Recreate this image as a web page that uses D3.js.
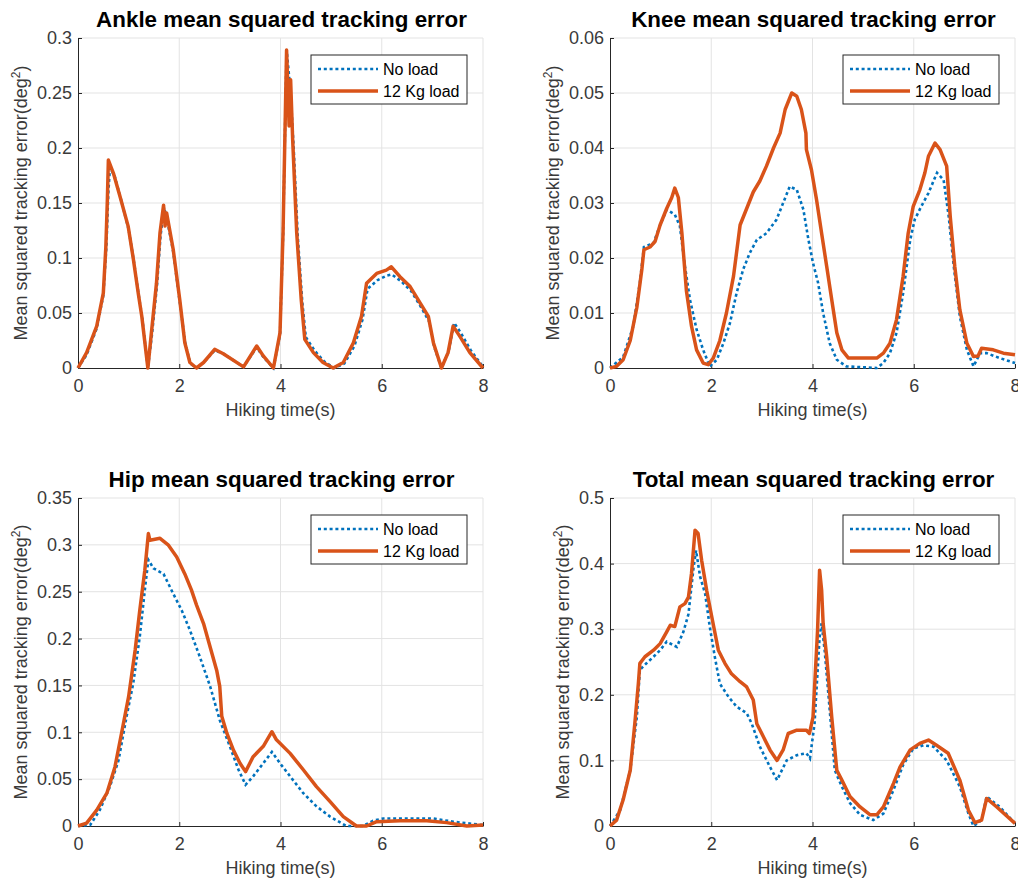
<!DOCTYPE html>
<html>
<head>
<meta charset="utf-8">
<script src="https://cdn.jsdelivr.net/npm/d3@7"></script>
<style>
  body { margin: 0; background: #fff; }
  svg { display: block; font-family: "Liberation Sans", Arial, Helvetica, sans-serif; }
</style>
</head>
<body>
<svg id="fig"></svg>
<script>
// values, [time (s), error]
const xTicks = [0, 2, 4, 6, 8];
const xTickLabels = ["0", "2", "4", "6", "8"];
const seriesNames = ["No load", "12 Kg load"];

const ankleNoLoad = [[0,0],[0.17,0.012],[0.37,0.036],[0.5,0.066],[0.56,0.11],[0.6,0.16],[0.63,0.182],[0.72,0.175],[0.85,0.153],[1.0,0.126],[1.1,0.098],[1.2,0.066],[1.27,0.045],[1.38,0],[1.46,0.03],[1.56,0.075],[1.63,0.12],[1.7,0.146],[1.76,0.135],[1.88,0.106],[2.01,0.06],[2.12,0.022],[2.22,0.004],[2.34,0],[2.48,0.005],[2.7,0.016],[2.87,0.013],[3.27,0.001],[3.53,0.019],[3.66,0.01],[3.86,0],[3.99,0.03],[4.05,0.12],[4.12,0.29],[4.2,0.25],[4.26,0.2],[4.34,0.12],[4.43,0.06],[4.5,0.028],[4.67,0.016],[4.86,0.006],[5.06,0],[5.26,0.004],[5.46,0.02],[5.62,0.044],[5.72,0.072],[5.92,0.08],[6.1,0.084],[6.2,0.085],[6.38,0.079],[6.58,0.07],[6.78,0.055],[6.94,0.042],[7.03,0.02],[7.18,0],[7.32,0.015],[7.43,0.041],[7.56,0.032],[7.76,0.016],[8,0.001]];
const ankleLoad = [[0,0],[0.17,0.014],[0.37,0.038],[0.5,0.068],[0.55,0.11],[0.58,0.153],[0.6,0.189],[0.7,0.177],[0.83,0.156],[0.99,0.129],[1.09,0.1],[1.19,0.068],[1.26,0.047],[1.38,0],[1.45,0.032],[1.55,0.077],[1.62,0.123],[1.69,0.148],[1.72,0.129],[1.75,0.141],[1.88,0.108],[2.01,0.062],[2.11,0.023],[2.21,0.005],[2.34,0],[2.48,0.005],[2.7,0.017],[2.87,0.013],[3.27,0.001],[3.53,0.02],[3.66,0.011],[3.86,0],[3.99,0.032],[4.05,0.123],[4.12,0.289],[4.17,0.22],[4.2,0.262],[4.24,0.208],[4.32,0.123],[4.41,0.062],[4.48,0.026],[4.65,0.014],[4.84,0.005],[5.04,0],[5.24,0.005],[5.44,0.023],[5.6,0.047],[5.7,0.077],[5.9,0.086],[6.09,0.089],[6.19,0.092],[6.36,0.083],[6.56,0.074],[6.76,0.059],[6.92,0.047],[7.02,0.023],[7.18,0],[7.31,0.014],[7.41,0.038],[7.54,0.029],[7.74,0.014],[8,0]];

const kneeNoLoad = [[0,0],[0.26,0.002],[0.46,0.0076],[0.59,0.0155],[0.67,0.022],[0.86,0.0227],[0.99,0.026],[1.12,0.0288],[1.28,0.0279],[1.38,0.0258],[1.48,0.0185],[1.58,0.0124],[1.71,0.007],[1.84,0.0033],[1.97,0.0003],[2.11,0.0015],[2.24,0.0045],[2.37,0.0082],[2.5,0.0136],[2.63,0.0179],[2.76,0.0209],[2.9,0.0233],[3.09,0.0245],[3.29,0.027],[3.42,0.03],[3.55,0.033],[3.69,0.0324],[3.82,0.0288],[3.92,0.0233],[4.01,0.0191],[4.11,0.0155],[4.21,0.01],[4.34,0.0045],[4.48,0.0015],[4.67,0.0003],[5.27,0],[5.4,0.0009],[5.53,0.0027],[5.66,0.0064],[5.79,0.0136],[5.93,0.0233],[6.02,0.027],[6.15,0.0294],[6.29,0.0318],[6.46,0.0355],[6.59,0.0342],[6.69,0.0276],[6.79,0.0185],[6.91,0.0094],[7.05,0.0033],[7.18,0.0003],[7.31,0.0027],[7.44,0.0027],[7.7,0.0018],[8,0.0009]];
const kneeLoad = [[0,0],[0.13,0.0003],[0.26,0.0015],[0.4,0.005],[0.53,0.011],[0.63,0.018],[0.67,0.0215],[0.79,0.022],[0.89,0.023],[0.99,0.026],[1.12,0.029],[1.22,0.031],[1.28,0.0327],[1.35,0.031],[1.42,0.0245],[1.51,0.014],[1.61,0.0076],[1.71,0.0033],[1.84,0.0009],[1.94,0.0006],[2.04,0.0018],[2.17,0.005],[2.3,0.01],[2.44,0.0167],[2.57,0.026],[2.7,0.029],[2.83,0.032],[2.96,0.034],[3.09,0.0367],[3.23,0.04],[3.36,0.0427],[3.46,0.047],[3.59,0.05],[3.69,0.0494],[3.78,0.047],[3.87,0.0427],[3.88,0.0397],[3.98,0.036],[4.08,0.0306],[4.18,0.0245],[4.28,0.0185],[4.38,0.0124],[4.48,0.0064],[4.58,0.0033],[4.71,0.0018],[5.27,0.0018],[5.4,0.0027],[5.53,0.0045],[5.66,0.0088],[5.79,0.0167],[5.89,0.0245],[5.99,0.0294],[6.12,0.0324],[6.22,0.0355],[6.29,0.0385],[6.42,0.0409],[6.52,0.0397],[6.65,0.0367],[6.72,0.0276],[6.81,0.0185],[6.91,0.0106],[7.05,0.0045],[7.18,0.0021],[7.27,0.0022],[7.34,0.0036],[7.57,0.0033],[7.77,0.0027],[8,0.0024]];

const hipNoLoad = [[0,0],[0.24,0.001],[0.43,0.017],[0.63,0.042],[0.8,0.07],[0.96,0.117],[1.09,0.152],[1.22,0.202],[1.32,0.252],[1.39,0.284],[1.49,0.275],[1.69,0.269],[1.88,0.248],[2.05,0.23],[2.21,0.209],[2.41,0.18],[2.61,0.149],[2.8,0.113],[3.0,0.085],[3.17,0.06],[3.31,0.044],[3.46,0.053],[3.66,0.067],[3.83,0.079],[3.99,0.067],[4.19,0.053],[4.45,0.035],[4.71,0.021],[4.98,0.01],[5.3,0],[5.63,0],[5.83,0.0057],[6.03,0.008],[7.02,0.008],[7.41,0.0046],[8,0.001]];
const hipLoad = [[0,0],[0.17,0.003],[0.37,0.017],[0.57,0.035],[0.73,0.063],[0.86,0.099],[1.0,0.138],[1.13,0.188],[1.22,0.23],[1.32,0.273],[1.39,0.312],[1.42,0.305],[1.62,0.307],[1.78,0.3],[1.95,0.287],[2.11,0.269],[2.24,0.252],[2.34,0.236],[2.48,0.216],[2.61,0.191],[2.74,0.166],[2.8,0.149],[2.84,0.117],[2.94,0.099],[3.07,0.081],[3.2,0.067],[3.31,0.058],[3.46,0.074],[3.66,0.085],[3.83,0.1006],[3.92,0.092],[4.19,0.0775],[4.45,0.06],[4.71,0.042],[4.98,0.026],[5.24,0.01],[5.5,0],[5.7,0],[5.9,0.0046],[6.36,0.0057],[6.89,0.0057],[7.28,0.0036],[7.68,0],[8,0.001]];

const totalNoLoad = [[0,0],[0.2,0.024],[0.4,0.085],[0.53,0.166],[0.59,0.238],[0.72,0.248],[0.86,0.258],[0.99,0.268],[1.12,0.281],[1.32,0.273],[1.45,0.296],[1.55,0.323],[1.65,0.394],[1.7,0.42],[1.78,0.38],[1.88,0.354],[1.97,0.304],[2.07,0.258],[2.17,0.217],[2.34,0.197],[2.5,0.182],[2.7,0.172],[2.8,0.156],[2.96,0.121],[3.16,0.09],[3.3,0.07],[3.49,0.1],[3.69,0.108],[3.88,0.111],[3.95,0.103],[4.04,0.156],[4.14,0.288],[4.18,0.309],[4.24,0.268],[4.34,0.177],[4.44,0.085],[4.58,0.06],[4.74,0.035],[4.94,0.017],[5.2,0.009],[5.4,0.019],[5.6,0.055],[5.79,0.093],[5.99,0.118],[6.19,0.123],[6.39,0.121],[6.65,0.1],[6.91,0.06],[7.08,0.019],[7.18,0],[7.34,0.009],[7.44,0.045],[7.7,0.029],[8,0.004]];
const totalLoad = [[0,0],[0.13,0.009],[0.26,0.04],[0.4,0.085],[0.49,0.156],[0.56,0.217],[0.59,0.248],[0.69,0.258],[0.86,0.268],[0.99,0.278],[1.12,0.296],[1.19,0.306],[1.28,0.304],[1.38,0.334],[1.48,0.339],[1.55,0.349],[1.61,0.385],[1.68,0.451],[1.74,0.446],[1.81,0.405],[1.91,0.359],[2.01,0.319],[2.14,0.268],[2.27,0.248],[2.4,0.232],[2.57,0.22],[2.7,0.212],[2.83,0.192],[2.9,0.156],[3.03,0.136],[3.16,0.116],[3.3,0.1],[3.42,0.116],[3.52,0.141],[3.69,0.146],[3.88,0.146],[3.94,0.141],[4.01,0.166],[4.1,0.298],[4.14,0.39],[4.18,0.36],[4.21,0.309],[4.28,0.258],[4.38,0.166],[4.48,0.085],[4.58,0.07],[4.74,0.045],[4.94,0.029],[5.14,0.017],[5.27,0.017],[5.4,0.029],[5.6,0.065],[5.73,0.09],[5.93,0.116],[6.12,0.126],[6.29,0.131],[6.45,0.123],[6.68,0.111],[6.91,0.07],[7.08,0.024],[7.21,0.005],[7.34,0.009],[7.44,0.042],[7.64,0.029],[8,0.004]];

const ankleTicks = [0, 0.05, 0.1, 0.15, 0.2, 0.25, 0.3];
const ankleTickLabels = ["0", "0.05", "0.1", "0.15", "0.2", "0.25", "0.3"];
const kneeTicks = [0, 0.01, 0.02, 0.03, 0.04, 0.05, 0.06];
const kneeTickLabels = ["0", "0.01", "0.02", "0.03", "0.04", "0.05", "0.06"];
const hipTicks = [0, 0.05, 0.1, 0.15, 0.2, 0.25, 0.3, 0.35];
const hipTickLabels = ["0", "0.05", "0.1", "0.15", "0.2", "0.25", "0.3", "0.35"];
const totalTicks = [0, 0.1, 0.2, 0.3, 0.4, 0.5];
const totalTickLabels = ["0", "0.1", "0.2", "0.3", "0.4", "0.5"];

// layout
let W = 1018, H = 882;
let axW = 405;
let colorNo = "#0072BD", colorLoad = "#D95319";
let axisColor = "#262626", textColor = "#3a3a3a", gridColor = "#e3e3e3";
let tickFont = 18, legendFont = 16, titleFont = 22.4;

const panels = [
  {title: "Ankle mean squared tracking error", left: 78, top: 38, h: 330, ticks: ankleTicks, labels: ankleTickLabels, no: ankleNoLoad, load: ankleLoad},
  {title: "Knee mean squared tracking error", left: 610, top: 38, h: 330, ticks: kneeTicks, labels: kneeTickLabels, no: kneeNoLoad, load: kneeLoad},
  {title: "Hip mean squared tracking error", left: 78, top: 498, h: 328, ticks: hipTicks, labels: hipTickLabels, no: hipNoLoad, load: hipLoad},
  {title: "Total mean squared tracking error", left: 610, top: 498, h: 328, ticks: totalTicks, labels: totalTickLabels, no: totalNoLoad, load: totalLoad}
];

const svg = d3.select("#fig").attr("width", W).attr("height", H);

panels.forEach(function(p) {
  let bottom = p.top + p.h;
  let x = d3.scaleLinear().domain([0, 8]).range([p.left, p.left + axW]);
  let y = d3.scaleLinear().domain([0, p.ticks[p.ticks.length - 1]]).range([bottom, p.top]);
  let g = svg.append("g");

  // grid
  g.append("g").selectAll("line").data(xTicks.slice(1)).enter().append("line")
    .attr("x1", d => x(d)).attr("x2", d => x(d))
    .attr("y1", p.top).attr("y2", bottom)
    .attr("stroke", gridColor).attr("stroke-width", 1);
  g.append("g").selectAll("line").data(p.ticks.slice(1)).enter().append("line")
    .attr("x1", p.left).attr("x2", p.left + axW)
    .attr("y1", d => y(d)).attr("y2", d => y(d))
    .attr("stroke", gridColor).attr("stroke-width", 1);

  // axes (box off, ticks point inward)
  let xAxis = g.append("g").attr("transform", "translate(0," + bottom + ")")
    .call(d3.axisBottom(x).tickValues(xTicks).tickFormat((d, i) => xTickLabels[i])
      .tickSizeInner(-4).tickSizeOuter(0).tickPadding(11));
  let yAxis = g.append("g").attr("transform", "translate(" + p.left + ",0)")
    .call(d3.axisLeft(y).tickValues(p.ticks).tickFormat((d, i) => p.labels[i])
      .tickSizeInner(-4).tickSizeOuter(0).tickPadding(6));
  [xAxis, yAxis].forEach(function(a) {
    a.select(".domain").attr("stroke", axisColor);
    a.selectAll(".tick line").attr("stroke", axisColor);
    a.selectAll("text").attr("fill", textColor).attr("font-size", tickFont)
      .attr("font-family", null);
  });

  // series: no load first, loaded on top
  let line = d3.line().x(d => x(d[0])).y(d => y(d[1]));
  g.append("path").datum(p.no).attr("d", line)
    .attr("fill", "none").attr("stroke", colorNo).attr("stroke-width", 2.6)
    .attr("stroke-dasharray", "3,2.8");
  g.append("path").datum(p.load).attr("d", line)
    .attr("fill", "none").attr("stroke", colorLoad).attr("stroke-width", 3.5)
    .attr("stroke-linejoin", "round");

  // title and labels
  g.append("text")
    .attr("x", p.left + axW / 2 + 1).attr("y", p.top - 11)
    .attr("text-anchor", "middle").attr("font-weight", "bold")
    .attr("font-size", titleFont).attr("fill", "#000")
    .text(p.title);

  g.append("text")
    .attr("x", p.left + axW / 2).attr("y", bottom + 48)
    .attr("text-anchor", "middle").attr("font-size", tickFont).attr("fill", textColor)
    .text("Hiking time(s)");

  let tickW = d3.max(yAxis.selectAll("text").nodes(), n => n.getComputedTextLength());
  let ylx = p.left - 6 - tickW - 10;
  let yl = g.append("text")
    .attr("transform", "translate(" + ylx + "," + (p.top + p.h / 2) + ") rotate(-90)")
    .attr("text-anchor", "middle").attr("font-size", tickFont).attr("fill", textColor);
  yl.append("tspan").text("Mean squared tracking error(deg");
  yl.append("tspan").attr("baseline-shift", "super").attr("font-size", 12).text("2");
  yl.append("tspan").text(")");

  // legend
  let lx = p.left + axW - 16 - 156, ly = p.top + 17;
  let leg = g.append("g").attr("transform", "translate(" + lx + "," + ly + ")");
  leg.append("rect").attr("width", 156).attr("height", 49)
    .attr("fill", "#fff").attr("stroke", axisColor).attr("stroke-width", 1);
  let rows = [{c: colorNo, w: 2.6, dash: "3,2.8"}, {c: colorLoad, w: 3.5, dash: null}];
  rows.forEach(function(r, i) {
    let cy = 14 + i * 22;
    leg.append("line").attr("x1", 7).attr("x2", 67).attr("y1", cy).attr("y2", cy)
      .attr("stroke", r.c).attr("stroke-width", r.w).attr("stroke-dasharray", r.dash);
    leg.append("text").attr("x", 72).attr("y", cy).attr("dy", "0.35em")
      .attr("font-size", legendFont).attr("fill", "#000").text(seriesNames[i]);
  });
});
</script>
</body>
</html>
